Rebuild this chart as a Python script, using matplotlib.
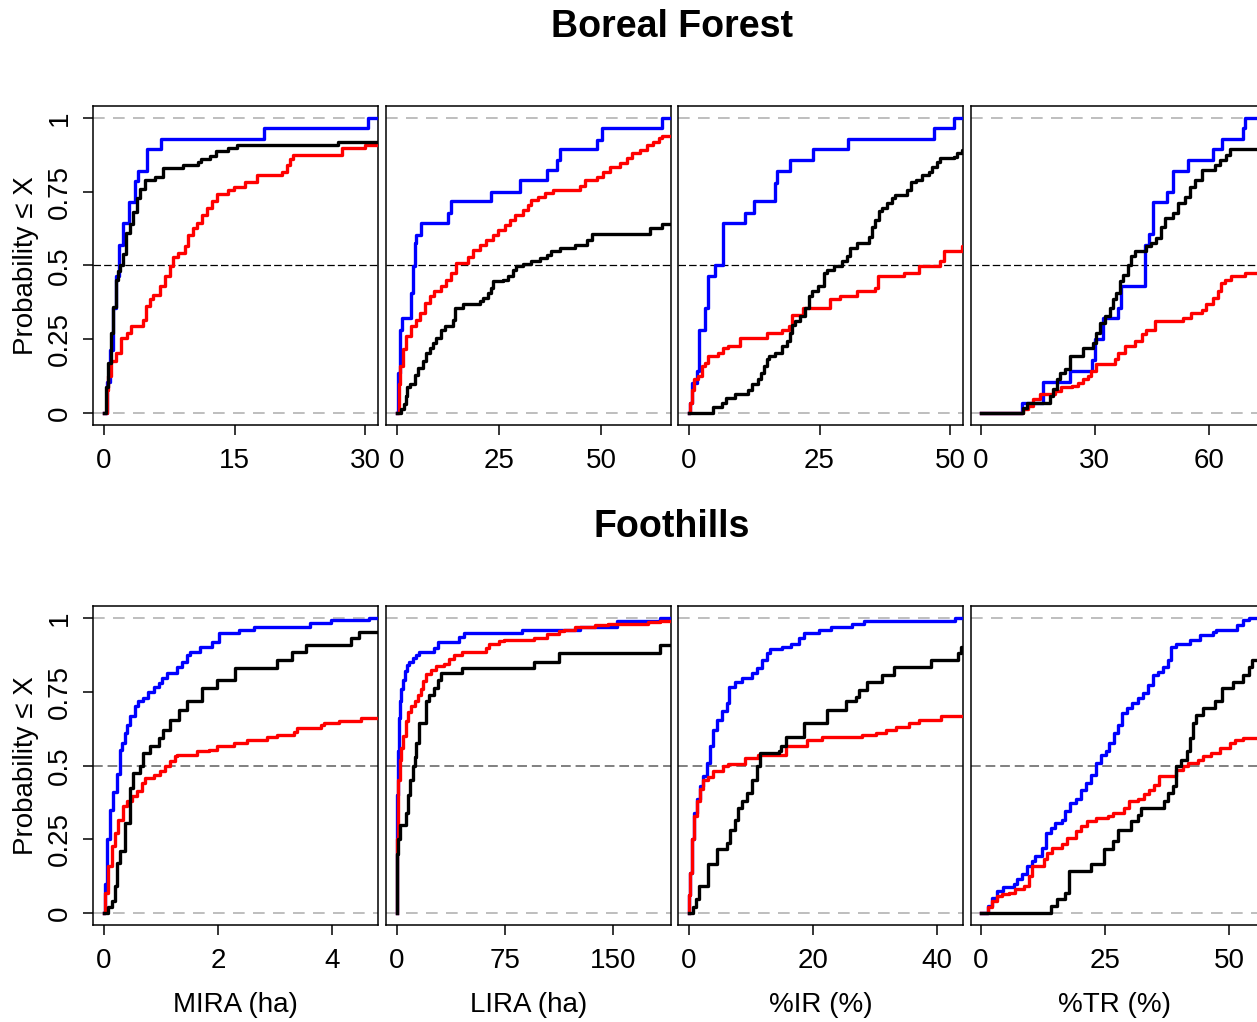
import matplotlib.pyplot as plt

plt.rcParams['font.family'] = ['Liberation Sans', 'DejaVu Sans']

# ECDF step points: x where the curve jumps, p = cumulative probability after the jump
# ---- Boreal Forest ----
bf_mira_blue_x = [0.31, 0.69, 1.07, 1.38, 1.76, 2.2, 2.9, 3.56, 3.94, 5.0, 6.6, 18.4, 30.3]
bf_mira_blue_p = [0.107, 0.214, 0.357, 0.464, 0.571, 0.643, 0.714, 0.786, 0.821, 0.893, 0.929, 0.964, 1.0]
bf_mira_red_x = [0.31, 0.5, 0.77, 1.45, 1.91, 2.6, 3.06, 4.52, 4.82, 5.28, 5.66, 6.43, 7.0, 7.58, 7.96, 8.53,
                 9.3, 9.68, 10.26, 10.64, 11.21, 11.79, 12.36, 12.94, 14.27, 14.93, 16.19, 17.53, 20.4, 21.0,
                 21.4, 21.7, 27.3, 29.97]
bf_mira_red_p = [0.08, 0.126, 0.177, 0.205, 0.255, 0.27, 0.295, 0.317, 0.362, 0.385, 0.40, 0.43, 0.463, 0.497,
                 0.53, 0.542, 0.565, 0.604, 0.627, 0.643, 0.672, 0.694, 0.717, 0.741, 0.756, 0.767, 0.784,
                 0.807, 0.818, 0.84, 0.86, 0.874, 0.897, 0.908]
bf_mira_black_x = [0.23, 0.5, 0.77, 1.07, 1.38, 1.65, 1.84, 2.22, 2.53, 2.99, 3.37, 3.75, 4.13, 4.71, 5.86,
                   6.74, 9.1, 10.8, 11.2, 12.2, 12.9, 14.2, 15.3, 26.9]
bf_mira_black_p = [0.09, 0.17, 0.27, 0.36, 0.45, 0.48, 0.5, 0.54, 0.61, 0.64, 0.68, 0.73, 0.76, 0.79, 0.80,
                   0.83, 0.84, 0.85, 0.86, 0.87, 0.886, 0.897, 0.908, 0.919]

bf_lira_blue_x = [0.25, 0.82, 1.31, 3.5, 3.9, 4.33, 4.74, 5.96, 12.5, 13.3, 22.9, 30.2, 36.6, 39.2, 39.9,
                  48.9, 50.1, 64.8]
bf_lira_blue_p = [0.137, 0.283, 0.323, 0.407, 0.497, 0.576, 0.604, 0.643, 0.677, 0.717, 0.75, 0.79, 0.823,
                  0.857, 0.893, 0.925, 0.964, 1.0]
bf_lira_red_x = [0.49, 0.82, 1.47, 2.29, 3.5, 4.7, 5.6, 6.8, 8.0, 9.2, 10.9, 12.1, 13.3, 14.5, 17.4, 18.6,
                 20.3, 21.9, 23.5, 24.8, 26.4, 27.6, 28.8, 30.9, 32.1, 32.9, 34.6, 36.2, 38.2, 44.8, 46.0,
                 48.9, 50.5, 52.1, 54.6, 56.2, 57.4, 59.5, 61.1, 62.7, 64.0, 64.8]
bf_lira_red_p = [0.10, 0.16, 0.216, 0.26, 0.295, 0.317, 0.34, 0.373, 0.396, 0.413, 0.43, 0.452, 0.475, 0.508,
                 0.53, 0.553, 0.57, 0.587, 0.604, 0.62, 0.638, 0.655, 0.672, 0.688, 0.705, 0.722, 0.733,
                 0.745, 0.757, 0.77, 0.79, 0.80, 0.818, 0.835, 0.846, 0.863, 0.88, 0.89, 0.907, 0.918, 0.93,
                 0.938]
bf_lira_black_x = [1.06, 1.63, 2.12, 2.45, 3.1, 4.33, 5.15, 6.37, 7.19, 8.0, 8.8, 9.6, 10.9, 11.7, 13.7,
                   14.1, 16.2, 20.3, 21.1, 22.3, 22.9, 23.5, 26.0, 27.2, 28.4, 29.2, 30.9, 32.9, 35.0, 36.6,
                   37.8, 39.9, 43.5, 46.4, 47.6, 61.9, 64.8]
bf_lira_black_p = [0.013, 0.03, 0.058, 0.09, 0.10, 0.13, 0.154, 0.177, 0.205, 0.222, 0.238, 0.255, 0.283,
                   0.295, 0.317, 0.357, 0.368, 0.38, 0.39, 0.407, 0.424, 0.447, 0.452, 0.463, 0.486, 0.497,
                   0.505, 0.514, 0.525, 0.537, 0.548, 0.56, 0.57, 0.587, 0.606, 0.627, 0.641]

bf_ir_blue_x = [0.19, 0.64, 1.47, 1.98, 3.07, 3.7, 5.0, 6.46, 10.7, 12.5, 16.4, 16.8, 19.4, 23.8, 30.4,
                46.9, 50.7]
bf_ir_blue_p = [0.036, 0.103, 0.143, 0.283, 0.357, 0.463, 0.5, 0.643, 0.677, 0.717, 0.778, 0.821, 0.857,
                0.893, 0.927, 0.964, 1.0]
bf_ir_red_x = [0.19, 0.64, 1.02, 1.79, 2.43, 3.07, 3.7, 5.6, 6.6, 7.5, 9.8, 14.9, 17.8, 19.1, 19.8, 21.9,
               27.0, 29.0, 32.2, 35.7, 36.2, 41.1, 44.0, 48.1, 48.8, 52.2]
bf_ir_red_p = [0.036, 0.08, 0.115, 0.126, 0.16, 0.17, 0.193, 0.205, 0.222, 0.227, 0.255, 0.272, 0.283, 0.295,
               0.334, 0.357, 0.385, 0.396, 0.413, 0.424, 0.463, 0.475, 0.497, 0.514, 0.548, 0.565]
bf_ir_black_x = [4.67, 6.27, 7.2, 8.8, 11.4, 12.1, 13.2, 13.8, 14.3, 14.9, 15.3, 16.5, 17.8, 18.7, 19.4,
                 19.8, 20.3, 21.3, 22.3, 22.9, 23.5, 24.8, 25.8, 26.4, 27.7, 29.3, 30.2, 30.9, 32.2, 34.4,
                 35.0, 35.7, 36.3, 37.0, 37.9, 38.9, 39.5, 41.8, 42.4, 43.4, 44.6, 45.9, 46.5, 47.5, 48.1,
                 50.7, 51.3, 52.3]
bf_ir_black_p = [0.02, 0.036, 0.053, 0.064, 0.08, 0.098, 0.115, 0.137, 0.16, 0.182, 0.193, 0.205, 0.227,
                 0.244, 0.272, 0.30, 0.312, 0.328, 0.357, 0.396, 0.413, 0.43, 0.475, 0.486, 0.497, 0.514,
                 0.531, 0.559, 0.576, 0.598, 0.632, 0.655, 0.683, 0.694, 0.711, 0.728, 0.739, 0.756, 0.784,
                 0.79, 0.807, 0.818, 0.835, 0.851, 0.863, 0.868, 0.88, 0.891]

bf_tr_blue_x = [10.7, 16.4, 23.4, 29.3, 30.0, 32.2, 36.1, 37.0, 43.2, 44.2, 45.4, 48.9, 50.6, 54.6, 61.1,
                63.5, 69.0, 69.6]
bf_tr_blue_p = [0.036, 0.107, 0.143, 0.179, 0.25, 0.321, 0.357, 0.429, 0.571, 0.607, 0.714, 0.75, 0.821,
                0.857, 0.893, 0.929, 0.964, 1.0]
bf_tr_red_x = [11.1, 12.5, 13.8, 15.5, 19.5, 21.2, 23.9, 25.6, 26.9, 28.2, 29.1, 30.4, 35.3, 36.1, 37.9,
               40.5, 42.3, 43.6, 45.8, 53.2, 55.4, 58.1, 59.4, 61.1, 62.5, 63.3, 64.2, 66.0, 69.5]
bf_tr_red_p = [0.013, 0.025, 0.047, 0.064, 0.075, 0.087, 0.092, 0.103, 0.115, 0.126, 0.143, 0.165, 0.182,
               0.205, 0.227, 0.244, 0.267, 0.283, 0.312, 0.323, 0.34, 0.351, 0.368, 0.39, 0.413, 0.441,
               0.452, 0.463, 0.475]
bf_tr_black_x = [11.1, 12.0, 18.2, 19.0, 19.9, 20.8, 22.1, 23.4, 26.9, 29.6, 30.4, 31.3, 32.6, 33.9, 34.8,
                 35.7, 36.6, 37.5, 38.8, 39.6, 40.5, 43.6, 44.9, 46.2, 47.5, 48.4, 50.6, 51.9, 53.7, 55.0,
                 56.3, 58.1, 61.6, 62.9, 64.6, 65.5]
bf_tr_black_p = [0.019, 0.034, 0.058, 0.081, 0.115, 0.137, 0.148, 0.193, 0.222, 0.238, 0.272, 0.306, 0.328,
                 0.357, 0.385, 0.407, 0.447, 0.469, 0.503, 0.531, 0.548, 0.565, 0.576, 0.593, 0.632, 0.66,
                 0.677, 0.711, 0.733, 0.767, 0.79, 0.823, 0.84, 0.857, 0.874, 0.893]

# ---- Foothills ----
fh_mira_blue_x = [0.018, 0.059, 0.106, 0.164, 0.223, 0.282, 0.311, 0.37, 0.40, 0.457, 0.545, 0.604, 0.692,
                  0.78, 0.868, 0.956, 1.015, 1.10, 1.28, 1.37, 1.45, 1.51, 1.69, 1.89, 2.01, 2.36, 2.63,
                  3.62, 3.98, 4.65]
fh_mira_blue_p = [0.10, 0.25, 0.35, 0.41, 0.47, 0.553, 0.576, 0.61, 0.638, 0.666, 0.70, 0.717, 0.728, 0.75,
                  0.767, 0.778, 0.795, 0.812, 0.835, 0.851, 0.874, 0.885, 0.902, 0.919, 0.947, 0.958, 0.97,
                  0.981, 0.992, 1.0]
fh_mira_red_x = [0.018, 0.076, 0.135, 0.19, 0.25, 0.34, 0.40, 0.487, 0.575, 0.663, 0.72, 0.868, 0.985, 1.07,
                 1.16, 1.25, 1.28, 1.63, 1.84, 1.98, 2.28, 2.51, 2.86, 3.04, 3.33, 3.39, 3.80, 3.86, 4.12,
                 4.50]
fh_mira_red_p = [0.07, 0.16, 0.227, 0.272, 0.317, 0.362, 0.38, 0.396, 0.413, 0.441, 0.458, 0.469, 0.48,
                 0.497, 0.514, 0.531, 0.537, 0.548, 0.553, 0.565, 0.576, 0.587, 0.598, 0.604, 0.615, 0.627,
                 0.638, 0.643, 0.649, 0.66]
fh_mira_black_x = [0.076, 0.135, 0.19, 0.22, 0.28, 0.37, 0.457, 0.516, 0.633, 0.69, 0.81, 0.956, 1.04,
                   1.16, 1.31, 1.45, 1.72, 1.98, 2.30, 3.04, 3.30, 3.54, 4.33, 4.48]
fh_mira_black_p = [0.02, 0.042, 0.092, 0.17, 0.21, 0.306, 0.424, 0.475, 0.497, 0.542, 0.565, 0.593, 0.62,
                   0.655, 0.688, 0.717, 0.762, 0.79, 0.83, 0.857, 0.885, 0.908, 0.93, 0.953]

fh_lira_blue_x = [0.1, 0.46, 1.15, 1.84, 3.0, 4.1, 5.3, 6.9, 8.7, 11.0, 13.3, 15.6, 26.0, 28.3, 43.2, 46.7,
                  87.0, 127.2, 152.5, 182.4]
fh_lira_blue_p = [0.40, 0.55, 0.66, 0.72, 0.76, 0.79, 0.82, 0.84, 0.85, 0.865, 0.875, 0.885, 0.897, 0.919,
                  0.936, 0.95, 0.96, 0.97, 0.99, 1.0]
fh_lira_red_x = [0.05, 0.69, 1.84, 3.0, 4.1, 6.4, 7.6, 9.9, 12.2, 14.5, 16.8, 17.9, 20.2, 23.7, 27.1, 32.9,
                 36.3, 39.8, 45.5, 61.7, 64.0, 70.9, 74.3, 95.0, 104.2, 112.3, 115.7, 123.8, 137.6, 146.8,
                 174.4, 182.4]
fh_lira_red_p = [0.25, 0.45, 0.52, 0.56, 0.60, 0.65, 0.68, 0.70, 0.72, 0.74, 0.76, 0.785, 0.81, 0.825,
                 0.838, 0.845, 0.86, 0.875, 0.885, 0.897, 0.91, 0.92, 0.925, 0.932, 0.945, 0.955, 0.96,
                 0.97, 0.975, 0.98, 0.985, 0.99]
fh_lira_black_x = [0.05, 0.69, 2.3, 6.4, 7.6, 9.2, 11.0, 12.2, 13.3, 15.6, 20.2, 22.5, 26.0, 28.3, 30.6,
                   45.5, 95.0, 112.3, 182.4]
fh_lira_black_p = [0.20, 0.25, 0.30, 0.34, 0.40, 0.45, 0.50, 0.53, 0.575, 0.643, 0.717, 0.74, 0.762, 0.79,
                   0.812, 0.83, 0.85, 0.88, 0.908]

fh_ir_blue_x = [0.02, 0.16, 0.43, 0.86, 1.24, 1.78, 2.32, 2.86, 3.4, 3.95, 4.49, 5.3, 6.1, 6.4, 7.5, 8.5,
                10.2, 11.0, 11.8, 12.6, 13.1, 15.0, 16.4, 17.7, 18.5, 21.0, 22.9, 26.4, 28.3, 42.9]
fh_ir_blue_p = [0.06, 0.137, 0.25, 0.34, 0.385, 0.43, 0.463, 0.51, 0.565, 0.62, 0.655, 0.683, 0.711, 0.767,
                0.784, 0.795, 0.812, 0.83, 0.857, 0.88, 0.893, 0.902, 0.913, 0.93, 0.947, 0.958, 0.97, 0.98,
                0.99, 1.0]
fh_ir_red_x = [0.02, 0.16, 0.43, 0.86, 1.24, 1.78, 2.32, 3.14, 3.95, 5.57, 6.38, 9.08, 11.2, 15.6, 19.1,
               21.5, 28.0, 30.2, 31.8, 33.4, 35.6, 37.2, 40.7]
fh_ir_red_p = [0.06, 0.137, 0.25, 0.33, 0.38, 0.42, 0.45, 0.46, 0.48, 0.50, 0.505, 0.525, 0.537, 0.565,
               0.587, 0.598, 0.604, 0.61, 0.62, 0.632, 0.643, 0.655, 0.666]
fh_ir_black_x = [0.7, 1.08, 1.62, 3.14, 4.49, 6.1, 6.65, 7.46, 8.0, 8.5, 9.35, 10.2, 11.0, 11.5, 14.5, 14.8,
                 15.6, 18.5, 22.3, 25.3, 26.9, 27.5, 28.8, 31.2, 33.1, 39.1, 43.4, 43.9]
fh_ir_black_p = [0.02, 0.047, 0.092, 0.165, 0.216, 0.238, 0.283, 0.317, 0.357, 0.379, 0.407, 0.452, 0.497,
                 0.542, 0.548, 0.565, 0.598, 0.643, 0.688, 0.717, 0.733, 0.756, 0.784, 0.807, 0.835, 0.857,
                 0.88, 0.902]

fh_tr_blue_x = [1.49, 2.16, 3.18, 4.5, 6.55, 7.2, 8.2, 9.26, 10.3, 10.9, 12.3, 13.0, 14.0, 15.0, 16.4, 17.0,
                18.0, 19.1, 20.1, 21.1, 22.1, 23.1, 24.1, 25.1, 25.8, 26.8, 27.5, 28.5, 29.5, 30.5, 31.6,
                32.6, 33.6, 34.6, 35.6, 36.6, 37.6, 38.3, 39.3, 42.0, 44.1, 46.8, 47.4, 51.5, 52.8, 53.9]
fh_tr_blue_p = [0.025, 0.053, 0.075, 0.087, 0.098, 0.115, 0.132, 0.16, 0.177, 0.193, 0.222, 0.272, 0.289,
                0.306, 0.317, 0.345, 0.373, 0.385, 0.418, 0.441, 0.469, 0.508, 0.537, 0.548, 0.576, 0.61,
                0.638, 0.677, 0.694, 0.711, 0.728, 0.745, 0.773, 0.807, 0.818, 0.835, 0.857, 0.902, 0.913,
                0.925, 0.941, 0.953, 0.96, 0.975, 0.992, 1.0]
fh_tr_red_x = [1.49, 2.16, 3.18, 4.19, 5.54, 6.9, 8.6, 9.6, 10.3, 12.6, 13.3, 14.3, 16.4, 17.4, 19.1, 20.1,
               21.4, 23.1, 25.5, 26.5, 28.9, 29.9, 31.6, 32.9, 33.9, 34.9, 35.9, 39.3, 40.7, 41.7, 43.7,
               44.7, 46.4, 48.1, 50.1, 51.1, 52.8]
fh_tr_red_p = [0.02, 0.042, 0.058, 0.064, 0.07, 0.081, 0.092, 0.126, 0.16, 0.182, 0.205, 0.222, 0.233,
               0.255, 0.278, 0.295, 0.312, 0.323, 0.328, 0.34, 0.357, 0.379, 0.385, 0.402, 0.418, 0.435,
               0.463, 0.486, 0.497, 0.508, 0.52, 0.531, 0.542, 0.559, 0.576, 0.587, 0.593]
fh_tr_black_x = [14.0, 15.3, 17.0, 17.7, 22.1, 24.8, 26.5, 27.5, 30.2, 31.6, 32.2, 36.9, 37.6, 38.6, 39.3,
                 40.3, 41.4, 42.0, 42.7, 43.4, 44.7, 47.1, 48.5, 50.8, 52.8, 53.9, 54.5]
fh_tr_black_p = [0.025, 0.047, 0.07, 0.143, 0.165, 0.216, 0.244, 0.283, 0.312, 0.334, 0.357, 0.379, 0.407,
                 0.43, 0.497, 0.52, 0.548, 0.593, 0.643, 0.672, 0.694, 0.717, 0.762, 0.784, 0.807, 0.835,
                 0.857]

col_labels = ['MIRA (ha)', 'LIRA (ha)', '%IR (%)', '%TR (%)']
y_ticks = [0, 0.25, 0.5, 0.75, 1]
y_ticklabels = ['0', '0.25', '0.5', '0.75', '1']

# per panel: x limits, x ticks, curves (blue, red, black)
panels = [
    [((-1.21, 31.48), [0, 15, 30], [(bf_mira_blue_x, bf_mira_blue_p), (bf_mira_red_x, bf_mira_red_p), (bf_mira_black_x, bf_mira_black_p)]),
     ((-2.58, 67.1), [0, 25, 50], [(bf_lira_blue_x, bf_lira_blue_p), (bf_lira_red_x, bf_lira_red_p), (bf_lira_black_x, bf_lira_black_p)]),
     ((-2.02, 52.5), [0, 25, 50], [(bf_ir_blue_x, bf_ir_blue_p), (bf_ir_red_x, bf_ir_red_p), (bf_ir_black_x, bf_ir_black_p)]),
     ((-2.64, 73.25), [0, 30, 60], [(bf_tr_blue_x, bf_tr_blue_p), (bf_tr_red_x, bf_tr_red_p), (bf_tr_black_x, bf_tr_black_p)])],
    [((-0.188, 4.81), [0, 2, 4], [(fh_mira_blue_x, fh_mira_blue_p), (fh_mira_red_x, fh_mira_red_p), (fh_mira_black_x, fh_mira_black_p)]),
     ((-7.4, 190.5), [0, 75, 150], [(fh_lira_blue_x, fh_lira_blue_p), (fh_lira_red_x, fh_lira_red_p), (fh_lira_black_x, fh_lira_black_p)]),
     ((-1.72, 44.3), [0, 20, 40], [(fh_ir_blue_x, fh_ir_blue_p), (fh_ir_red_x, fh_ir_red_p), (fh_ir_black_x, fh_ir_black_p)]),
     ((-2.02, 56.0), [0, 25, 50], [(fh_tr_blue_x, fh_tr_blue_p), (fh_tr_red_x, fh_tr_red_p), (fh_tr_black_x, fh_tr_black_p)])],
]
colors = ['#0000FF', '#FF0000', 'black']

W, H = 1257, 1022
fig = plt.figure(figsize=(W / 100, H / 100), dpi=100)

lefts = [93.3, 386.3, 678.3, 971]
widths = [285, 285, 285, 288]
row_top = [106, 606]
panel_h = 319
mid_style = [dict(color='black', lw=0.9, dashes=(6, 2.5)),
             dict(color='#808080', lw=1.4, dashes=(5, 2.5))]
fs = 20

for r in range(2):
    for c in range(4):
        xlim, xticks, curves = panels[r][c]
        ax = fig.add_axes([lefts[c] / W, 1 - (row_top[r] + panel_h) / H, widths[c] / W, panel_h / H])
        ax.set_xlim(*xlim)
        ax.set_ylim(-0.04, 1.04)

        ax.axhline(0, color='#b3b3b3', lw=1.2, dashes=(7, 5), zorder=1)
        ax.axhline(1, color='#b3b3b3', lw=1.2, dashes=(7, 5), zorder=1)
        ax.axhline(0.5, zorder=1, **mid_style[r])

        for (x, p), col in zip(curves, colors):
            xs = [0] + list(x) + [xlim[1]]
            ps = [0] + list(p) + [p[-1]]
            ax.step(xs, ps, where='post', color=col, lw=2.4, zorder=3)

        for s in ax.spines.values():
            s.set_linewidth(1.1)
        ax.set_xticks(xticks)
        ax.set_xticklabels([str(t) for t in xticks])
        ax.tick_params(axis='x', direction='out', length=7, width=1.1, labelsize=fs, pad=9.5)
        if c == 0:
            ax.set_yticks(y_ticks)
            ax.set_yticklabels(y_ticklabels)
            ax.tick_params(axis='y', direction='out', length=7, width=1.1, labelsize=fs, pad=8,
                           labelrotation=90)
            for lab in ax.get_yticklabels():
                lab.set_va('center')
            ax.set_ylabel('Probability ≤ X', fontsize=fs, va='center')
            ax.yaxis.set_label_coords(-0.235, 0.5)
        else:
            ax.tick_params(axis='y', left=False, labelleft=False)
        if r == 1:
            ax.set_xlabel(col_labels[c], fontsize=fs, va='center')
            ax.xaxis.set_label_coords(0.5, -0.251)

fig.text(672 / W, 1 - 27 / H, 'Boreal Forest', ha='center', va='center', fontsize=27, fontweight='bold')
fig.text(672 / W, 1 - 527 / H, 'Foothills', ha='center', va='center', fontsize=27, fontweight='bold')

fig.savefig('out.png', dpi=100)
